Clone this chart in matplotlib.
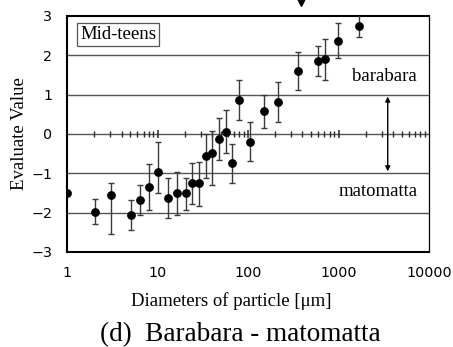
import numpy as np
import matplotlib
matplotlib.use("Agg")
import matplotlib.pyplot as plt

# particle diameter [um] and evaluation (mean, lower end, upper end of bar)
diam = [1, 2.05, 3.06, 5.1, 6.4, 8.05, 10.1, 13.2, 16.3, 20.5, 24.3, 28.7, 34.4,
        40.3, 48.2, 57.1, 67.1, 79.5, 105, 150, 213, 354, 593, 709, 987, 1700]
value = [-1.51, -1.98, -1.54, -2.05, -1.68, -1.34, -0.975, -1.62, -1.51, -1.51,
         -1.25, -1.25, -0.57, -0.49, -0.135, 0.06, -0.75, 0.865, -0.195, 0.585,
         0.805, 1.60, 1.865, 1.90, 2.37, 2.75]
upper = [-1.51, -1.65, -1.25, -1.68, -1.30, -0.76, -0.196, -1.13, -0.98, -1.13,
         -0.75, -0.72, 0.0, 0.08, 0.40, 0.61, -0.25, 1.36, 0.31, 0.99,
         1.31, 2.09, 2.24, 2.41, 2.83, 3.2]
lower = [-1.51, -2.30, -2.55, -2.44, -2.06, -1.93, -1.51, -2.15, -2.06, -1.93,
         -1.79, -1.82, -1.13, -1.30, -0.66, -0.49, -1.24, 0.36, -0.70, 0.145,
         0.30, 1.12, 1.48, 1.37, 1.93, 2.46]

xticks = [1, 10, 100, 1000, 10000]
xtick_labels = ["1", "10", "100", "1000", "10000"]
yticks = [-3, -2, -1, 0, 1, 2, 3]
ytick_labels = ["\u22123", "\u22122", "\u22121", "0", "1", "2", "3"]

serif = "Liberation Serif"

fig = plt.figure(figsize=(4.53, 3.47), dpi=100)
ax = fig.add_axes([0.148, 0.274, 0.799, 0.680])
ax.set_xscale("log")
ax.set_xlim(1, 10000)
ax.set_ylim(-3, 3)

# horizontal reference lines
for yy in [-2, -1, 0, 1, 2]:
    ax.axhline(yy, color="#555555", lw=1, zorder=1)

# log tick marks drawn on the zero line
minor = [m * 10 ** d for d in range(4) for m in range(2, 10)]
ax.vlines(minor, -0.085, 0.085, color="#2a2a2a", lw=1.0, zorder=1)
ax.vlines([10, 100, 1000], -0.11, 0.11, color="#2a2a2a", lw=1.1, zorder=1)

v = np.array(value)
yerr = [v - np.array(lower), np.array(upper) - v]
ax.errorbar(diam, value, yerr=yerr, fmt="o", color="black", ms=5.3,
            ecolor="#3a3a3a", elinewidth=1.0, capsize=2.2, capthick=1.0, zorder=3)

ax.set_xticks(xticks)
ax.set_xticklabels(xtick_labels)
ax.xaxis.set_minor_locator(matplotlib.ticker.NullLocator())
ax.set_yticks(yticks)
ax.set_yticklabels(ytick_labels)
ax.tick_params(length=0, labelsize=10.3)
ax.tick_params(axis="x", pad=10.3)
ax.tick_params(axis="y", pad=10.6)

for s in ["left", "bottom", "top"]:
    ax.spines[s].set_linewidth(1.5)
ax.spines["right"].set_linewidth(0.9)

ax.text(0.141, 0.922, "Mid-teens", transform=ax.transAxes, ha="center",
        va="center", family=serif, fontsize=13.5,
        bbox=dict(boxstyle="square,pad=0.15", fc="white", ec="#555555", lw=0.9))
ax.text(0.876, 0.742, "barabara", transform=ax.transAxes, ha="center",
        va="center", family=serif, fontsize=13.5)
ax.text(0.859, 0.256, "matomatta", transform=ax.transAxes, ha="center",
        va="center", family=serif, fontsize=13.5)

ax.annotate("", xy=(3500, 0.95), xytext=(3500, -0.95),
            arrowprops=dict(arrowstyle="<|-|>", color="black", lw=1.0,
                            mutation_scale=7, shrinkA=0, shrinkB=0))
ax.plot([385], [3.36], marker="v", color="black", ms=6, clip_on=False)

fig.text(0.042, 0.614, "Evaluate Value", rotation=90, ha="center", va="center",
         family=serif, fontsize=13.5)
fig.text(0.51, 0.131, "Diameters of particle [\u03bcm]", ha="center", va="center",
         family=serif, fontsize=13.5)
fig.text(0.53, 0.036, "(d)  Barabara - matomatta", ha="center", va="center",
         family=serif, fontsize=19.5)

fig.savefig("out.png", dpi=100)
